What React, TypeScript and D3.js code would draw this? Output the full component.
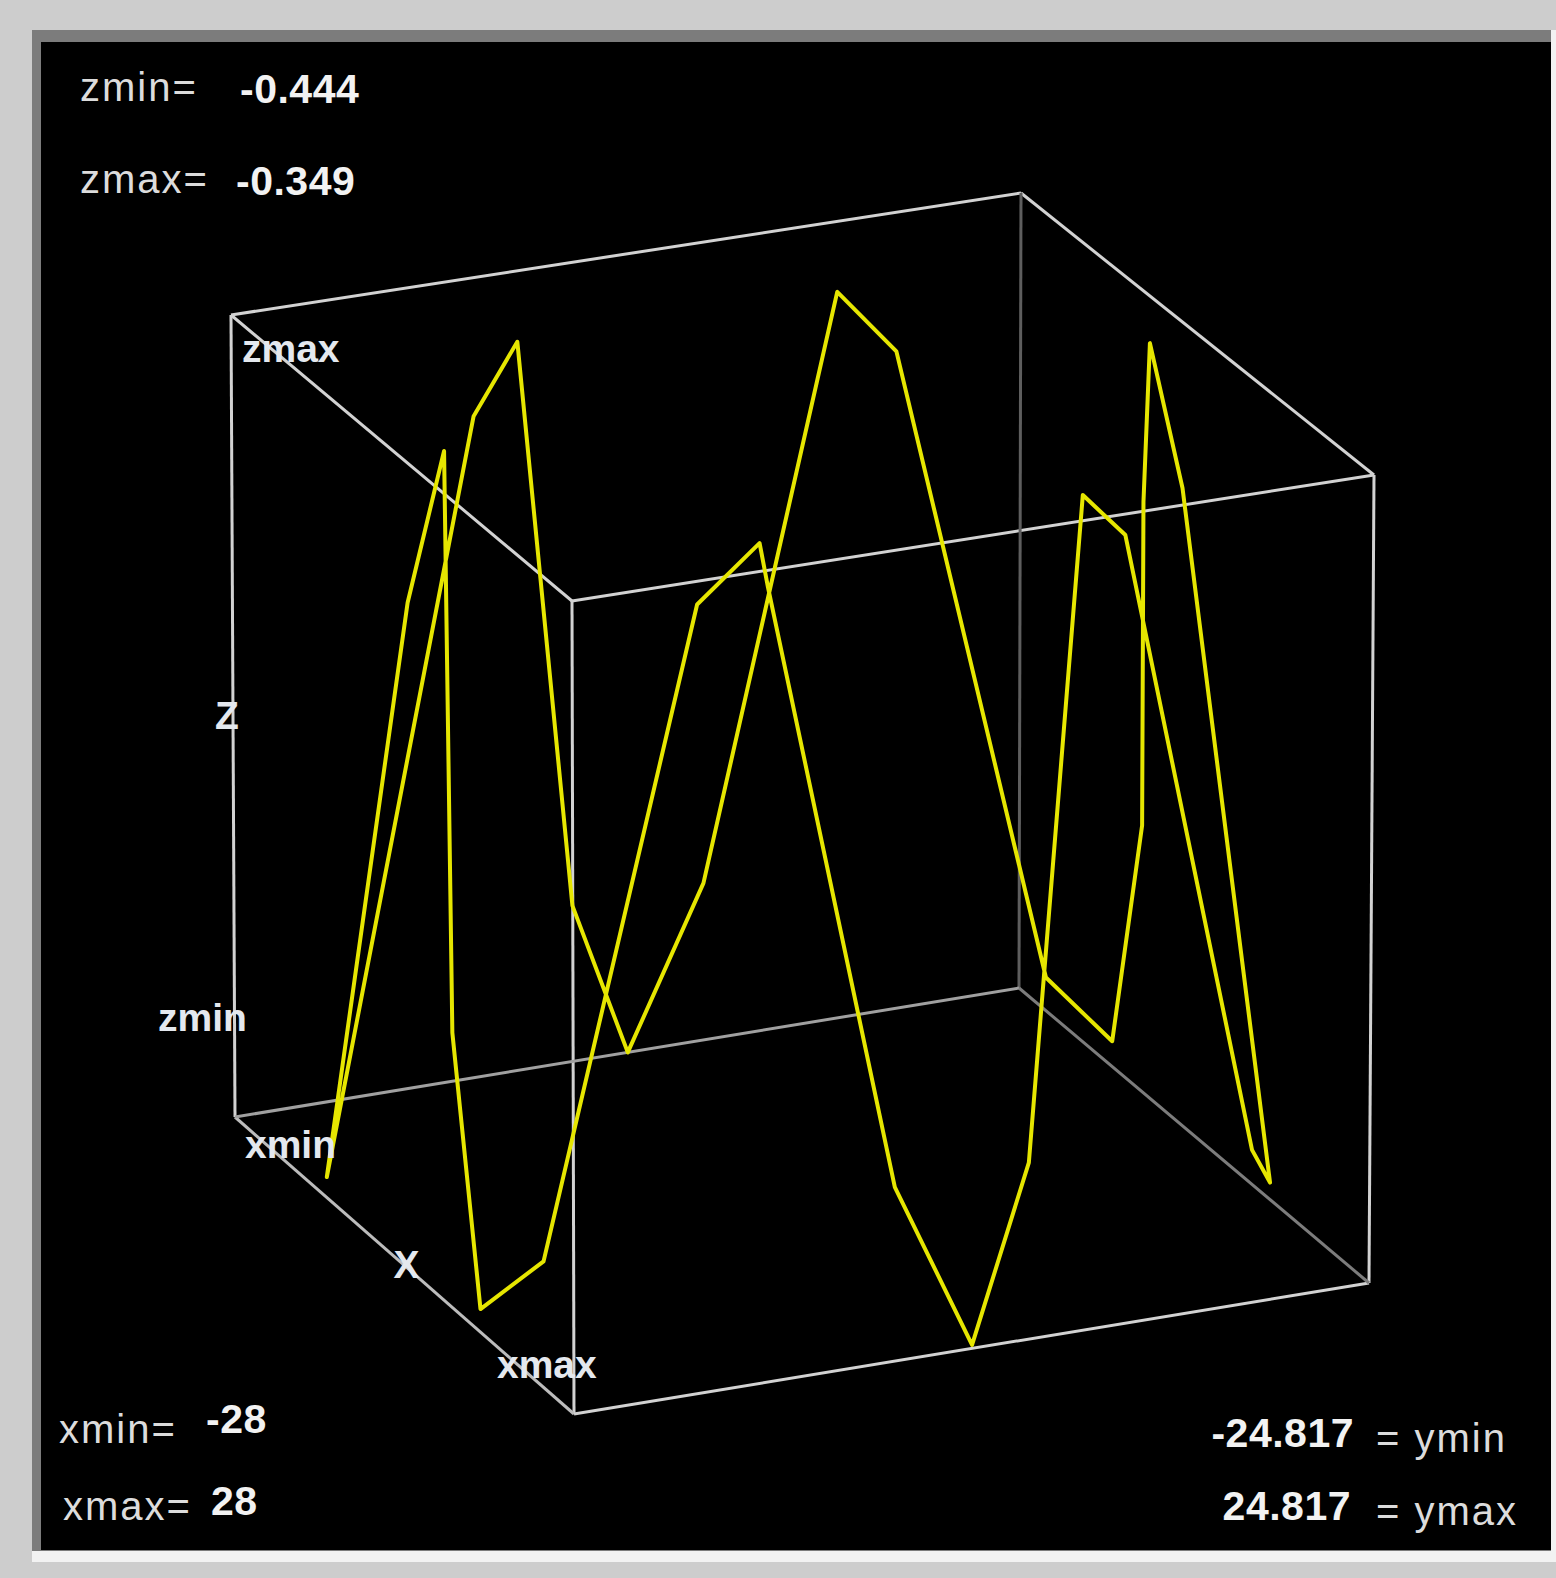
import React, { useEffect, useRef } from 'react'
import * as d3 from 'd3'

// axis ranges shown in the corner readouts
const xRange = [-28, 28]
const yRange = [-24.817, 24.817]
const zRange = [-0.444, -0.349]

// the closed yellow curve, one entry per vertex
const curveX = [-16.07, -5.38, -0.06, 3.47, 8.9, 11.09, 20.55, 23.3, 23.74, 26.1, 27.44, 27.05, 23.74, 21.62, 14.56,
  12.15, 5.54, 0.28, -7.06, -7.84, -13.1, -14.28, -16.07, -16.3, -24.86, -28, -20.61, -16.24, -16.24]
const curveY = [-23.58, -22.43, -22.14, -23.08, -23.43, -20.3, -14.25, -11.42, -11.07, -4.07, 0.25, 3.92, 8.44, 11.91, 22.73,
  24.817, 21.74, 21.74, 24.27, 24.57, 24.817, 21.09, 12.31, 8.69, 3.62, 0.05, -6.3, -11.37, -14.12]
const curveZ = [-0.444, -0.37, -0.349, -0.415, -0.444, -0.438, -0.357, -0.349, -0.354, -0.425, -0.444, -0.424, -0.349, -0.356, -0.436,
  -0.442, -0.363, -0.349, -0.373, -0.412, -0.441, -0.433, -0.357, -0.349, -0.423, -0.444, -0.42, -0.349, -0.357]

const W = 1556
const H = 1578

// where the eight corners of the box land on screen (b = zmin, t = zmax; digits = x index, y index)
const corners = {
  b00: [235, 1117], b10: [574, 1414], b01: [1019, 988], b11: [1369, 1283],
  t00: [231, 315], t10: [572, 601], t01: [1021, 193], t11: [1374, 475]
}

// box edges as [x index, y index, z index] pairs, with their grey
const boxEdges: [number[], number[], string][] = [
  [[0, 0, 1], [1, 0, 1], '#d2d2d2'],
  [[1, 0, 1], [1, 1, 1], '#d2d2d2'],
  [[1, 1, 1], [0, 1, 1], '#d2d2d2'],
  [[0, 1, 1], [0, 0, 1], '#d2d2d2'],
  [[0, 0, 0], [0, 0, 1], '#d2d2d2'],
  [[1, 0, 0], [1, 0, 1], '#d2d2d2'],
  [[1, 1, 0], [1, 1, 1], '#d2d2d2'],
  [[0, 1, 0], [0, 1, 1], '#5e5e5e'],
  [[0, 0, 0], [1, 0, 0], '#bcbcbc'],
  [[1, 0, 0], [1, 1, 0], '#d2d2d2'],
  [[0, 0, 0], [0, 1, 0], '#a0a0a0'],
  [[0, 1, 0], [1, 1, 0], '#7c7c7c']
]

const FONT = '"Liberation Sans", Arial, sans-serif'

function mix(p: number[], q: number[], t: number) {
  return [p[0] + (q[0] - p[0]) * t, p[1] + (q[1] - p[1]) * t]
}

function drawChart(node: SVGSVGElement) {
  const svg = d3.select(node)
  svg.selectAll('*').remove()

  const xs = d3.scaleLinear().domain(xRange).range([0, 1])
  const ys = d3.scaleLinear().domain(yRange).range([0, 1])
  const zs = d3.scaleLinear().domain(zRange).range([0, 1])

  // trilinear blend of the corner positions
  function project(x: number, y: number, z: number) {
    const u = xs(x), v = ys(y), w = zs(z)
    const bottom = mix(mix(corners.b00, corners.b10, u), mix(corners.b01, corners.b11, u), v)
    const top = mix(mix(corners.t00, corners.t10, u), mix(corners.t01, corners.t11, u), v)
    return mix(bottom, top, w)
  }
  const at = (i: number[]) => project(xRange[i[0]], yRange[i[1]], zRange[i[2]])

  // page and sunken panel
  svg.append('rect').attr('width', W).attr('height', H).attr('fill', '#cdcdcd')
  svg.append('rect').attr('x', 32).attr('y', 30).attr('width', 1524).attr('height', 1532).attr('fill', '#f2f2f2')
  svg.append('rect').attr('x', 32).attr('y', 30).attr('width', 1519).attr('height', 1521).attr('fill', '#7c7c7c')
  svg.append('rect').attr('x', 41).attr('y', 42).attr('width', 1510).attr('height', 1508).attr('fill', '#000')

  // box
  svg.append('g')
    .selectAll('line')
    .data(boxEdges)
    .enter()
    .append('line')
    .attr('x1', d => at(d[0])[0]).attr('y1', d => at(d[0])[1])
    .attr('x2', d => at(d[1])[0]).attr('y2', d => at(d[1])[1])
    .attr('stroke', d => d[2])
    .attr('stroke-width', 3)

  // curve
  const pts = curveX.map((x, i) => project(x, curveY[i], curveZ[i]))
  const line = d3.line().curve(d3.curveLinearClosed)
  svg.append('path')
    .attr('d', line(pts as [number, number][]))
    .attr('fill', 'none')
    .attr('stroke', '#e6e600')
    .attr('stroke-width', 4)
    .attr('stroke-linejoin', 'round')

  // labels on the box
  const boxLabels: [string, number[], number, number, string][] = [
    ['zmax', at([0, 0, 1]), 11, 47, 'start'],
    ['Z', mix(at([0, 0, 0]), at([0, 0, 1]), 0.5), -18, 13, 'start'],
    ['zmin', at([0, 0, 0]), -77, -86, 'start'],
    ['xmin', at([0, 0, 0]), 10, 41, 'start'],
    ['X', mix(at([0, 0, 0]), at([1, 0, 0]), 0.5), 2, 12, 'middle'],
    ['xmax', at([1, 0, 0]), -77, -36, 'start']
  ]
  svg.append('g')
    .selectAll('text')
    .data(boxLabels)
    .enter()
    .append('text')
    .attr('x', d => d[1][0] + d[2])
    .attr('y', d => d[1][1] + d[3])
    .attr('text-anchor', d => d[4])
    .attr('font-family', FONT)
    .attr('font-weight', 'bold')
    .attr('font-size', 39)
    .attr('fill', '#e4e8ee')
    .text(d => d[0])

  // range readouts, plain hyphen for the minus like the original
  const loc = d3.formatLocale({ decimal: '.', thousands: ',', grouping: [3], currency: ['', ''], minus: '-' })
  const f3 = loc.format('.3f')
  const fx = loc.format('d')
  const readouts: [string, number, number, string, string][] = [
    ['zmin=', 80, 101, 'start', 'normal'],
    [f3(zRange[0]), 240, 103, 'start', 'bold'],
    ['zmax=', 80, 193, 'start', 'normal'],
    [f3(zRange[1]), 236, 195, 'start', 'bold'],
    ['xmin=', 59, 1443, 'start', 'normal'],
    [fx(xRange[0]), 206, 1433, 'start', 'bold'],
    ['xmax=', 63, 1520, 'start', 'normal'],
    [fx(xRange[1]), 211, 1515, 'start', 'bold'],
    [f3(yRange[0]), 1354, 1447, 'end', 'bold'],
    ['= ymin', 1376, 1452, 'start', 'normal'],
    [f3(yRange[1]), 1351, 1520, 'end', 'bold'],
    ['= ymax', 1376, 1525, 'start', 'normal']
  ]
  svg.append('g')
    .selectAll('text')
    .data(readouts)
    .enter()
    .append('text')
    .attr('x', d => d[1])
    .attr('y', d => d[2])
    .attr('text-anchor', d => d[3])
    .attr('font-weight', d => d[4])
    .attr('letter-spacing', d => d[4] === 'bold' ? 0.5 : 2)
    .attr('font-family', FONT)
    .attr('font-size', d => d[4] === 'bold' ? 41 : 40)
    .attr('fill', d => d[4] === 'bold' ? '#f2f2f2' : '#dcdcdc')
    .text(d => d[0])
}

export default function App() {
  const ref = useRef<SVGSVGElement>(null)

  useEffect(() => {
    if (ref.current) drawChart(ref.current)
  }, [])

  return (
    <svg ref={ref} width={W} height={H} style={{ position: 'absolute', left: 0, top: 0 }} />
  )
}
